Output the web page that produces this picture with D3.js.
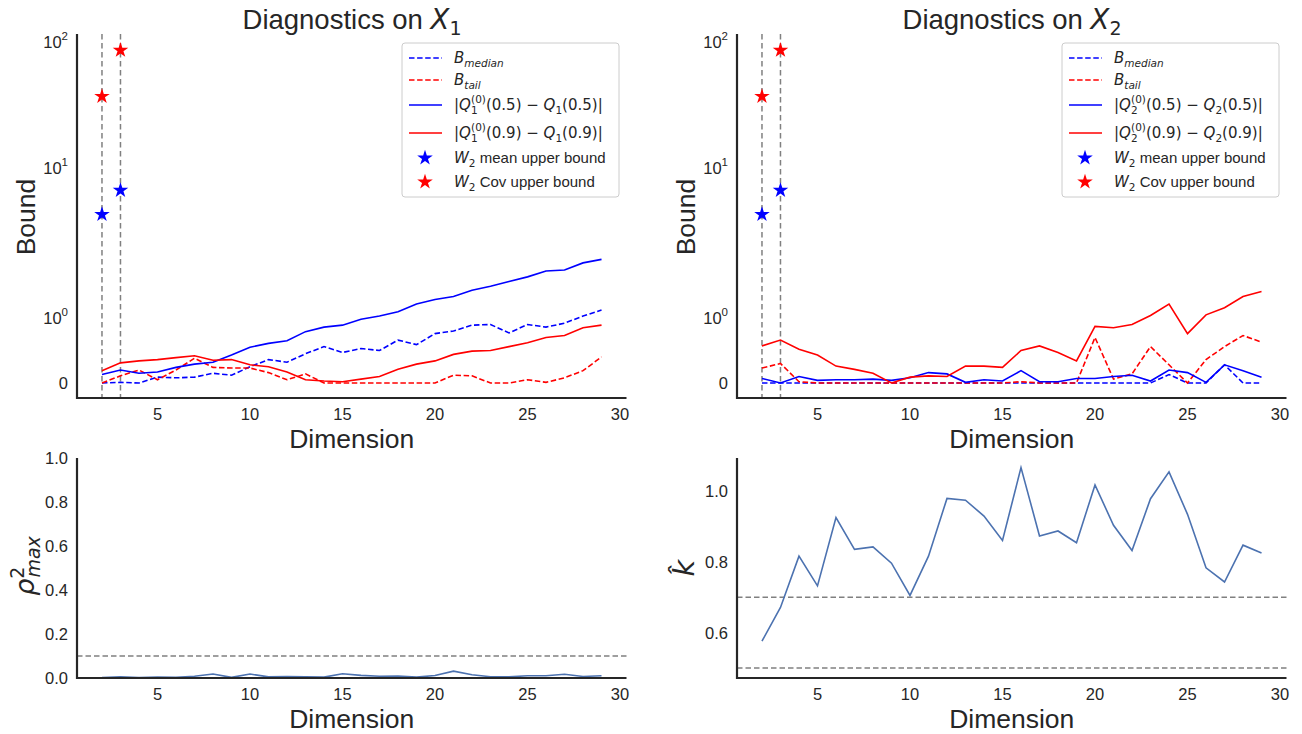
<!DOCTYPE html>
<html>
<head>
<meta charset="utf-8">
<script src="https://cdn.jsdelivr.net/npm/d3@7/dist/d3.min.js"></script>
<style>
  body { margin: 0; background: #fff; }
  text { fill: #262626; }
</style>
</head>
<body>
<svg id="svg" width="1302" height="734"></svg>
<script>
// ---- data ----
const dims = [2, 3, 4, 5, 6, 7, 8, 9, 10, 11, 12, 13, 14, 15, 16, 17, 18, 19, 20, 21, 22, 23, 24, 25, 26, 27, 28, 29];
const xTicks = [5, 10, 15, 20, 25, 30];
const boundTicks = [0, 1, 10, 100];

// W2 bounds (only two dimensions)
const starDims = [2, 3];
const w2Mean = [4.9, 7.1];
const w2Cov = [37, 86];

// X_1 panel
const x1BMedian = [0, 0.01, 0, 0.09, 0.08, 0.09, 0.15, 0.12, 0.25, 0.36, 0.32, 0.45, 0.56, 0.47, 0.53, 0.5, 0.66, 0.59, 0.76, 0.8, 0.89, 0.9, 0.77, 0.9, 0.86, 0.92, 1.03, 1.13];
const x1BTail = [0, 0.11, 0.2, 0.05, 0.2, 0.38, 0.24, 0.23, 0.23, 0.16, 0.05, 0.14, 0, 0, 0, 0, 0, 0, 0, 0.12, 0.11, 0, 0, 0.05, 0.01, 0.08, 0.19, 0.4];
const x1Q05 = [0.13, 0.2, 0.15, 0.17, 0.24, 0.29, 0.32, 0.43, 0.55, 0.61, 0.65, 0.79, 0.86, 0.89, 0.98, 1.03, 1.1, 1.24, 1.33, 1.39, 1.53, 1.63, 1.75, 1.88, 2.06, 2.09, 2.33, 2.46];
const x1Q09 = [0.19, 0.31, 0.34, 0.36, 0.39, 0.42, 0.35, 0.36, 0.28, 0.25, 0.17, 0.05, 0.03, 0.02, 0.06, 0.1, 0.21, 0.29, 0.34, 0.44, 0.49, 0.5, 0.56, 0.62, 0.7, 0.73, 0.85, 0.89];

// X_2 panel
const x2BMedian = [0, 0, 0, 0, 0, 0, 0, 0, 0, 0, 0, 0, 0, 0, 0, 0, 0, 0, 0, 0, 0, 0, 0.13, 0, 0, 0.28, 0, 0];
const x2BTail = [0.23, 0.3, 0.02, 0, 0, 0, 0, 0, 0, 0, 0, 0, 0, 0, 0.02, 0, 0, 0, 0.7, 0.06, 0.14, 0.56, 0.28, 0, 0.36, 0.56, 0.73, 0.63];
const x2Q05 = [0.07, 0, 0.1, 0.04, 0.05, 0.05, 0.06, 0.04, 0.08, 0.16, 0.14, 0.01, 0.05, 0.03, 0.19, 0.02, 0.02, 0.07, 0.07, 0.1, 0.12, 0.03, 0.2, 0.16, 0.01, 0.28, 0.19, 0.09];
const x2Q09 = [0.57, 0.66, 0.52, 0.43, 0.26, 0.21, 0.15, 0, 0.09, 0.11, 0.1, 0.26, 0.26, 0.24, 0.5, 0.57, 0.47, 0.34, 0.87, 0.85, 0.9, 1.04, 1.24, 0.76, 1.05, 1.17, 1.39, 1.5];

// bottom panels
const rhoMax = [0.002, 0.006, 0.002, 0.004, 0.003, 0.008, 0.018, 0.003, 0.018, 0.005, 0.007, 0.006, 0.004, 0.019, 0.012, 0.008, 0.009, 0.004, 0.011, 0.031, 0.015, 0.006, 0.005, 0.01, 0.01, 0.017, 0.007, 0.01];
const rhoTicks = [0, 0.2, 0.4, 0.6, 0.8, 1.0];
const rhoRef = [0.1];
const kHat = [0.576, 0.671, 0.816, 0.732, 0.925, 0.835, 0.842, 0.796, 0.705, 0.816, 0.979, 0.974, 0.929, 0.86, 1.066, 0.873, 0.887, 0.854, 1.017, 0.903, 0.832, 0.978, 1.054, 0.934, 0.783, 0.743, 0.847, 0.825];
const kTicks = [0.6, 0.8, 1.0];
const kRef = [0.7, 0.5];

// ---- drawing ----
const SANS = "'Liberation Sans', Arial, sans-serif";
const MATH = "'DejaVu Sans', sans-serif";
const INK = "#262626";
const TICK = 16.5;
const svg = d3.select("#svg");

function rich(sel, parts) {
  parts.forEach(p => {
    const t = sel.append("tspan").text(p.t);
    if (p.i) t.attr("font-style", "italic");
    if (p.s) t.attr("font-size", p.s);
    if (p.dy) t.attr("dy", p.dy);
    if (p.dx) t.attr("dx", p.dx);
    t.attr("font-family", p.f || MATH);
  });
  return sel;
}

function frame(g, x, top, bottom) {
  g.append("line").attr("x1", x.range()[0]).attr("x2", x.range()[0])
    .attr("y1", top).attr("y2", bottom + 1).attr("stroke", INK).attr("stroke-width", 2.2);
  g.append("line").attr("x1", x.range()[0] - 1).attr("x2", x.range()[1])
    .attr("y1", bottom).attr("y2", bottom).attr("stroke", INK).attr("stroke-width", 2.2);
  g.selectAll(".xt").data(xTicks).enter().append("text")
    .attr("x", d => x(d)).attr("y", bottom + 22)
    .attr("text-anchor", "middle").attr("font-family", SANS).attr("font-size", TICK)
    .text(d => d);
  g.append("text").attr("x", (x.range()[0] + x.range()[1]) / 2).attr("y", bottom + 50)
    .attr("text-anchor", "middle").attr("font-family", SANS).attr("font-size", 26.5)
    .text("Dimension");
}

function series(g, x, y, vals, color, dashed) {
  const line = d3.line().x((d, i) => x(dims[i])).y(d => y(d));
  g.append("path").datum(vals).attr("d", line).attr("fill", "none")
    .attr("stroke", color).attr("stroke-width", 1.6)
    .attr("stroke-dasharray", dashed ? "5.5,2.6" : null);
}

function topPanel(ox, idx, bMedian, bTail, q05, q09) {
  const g = svg.append("g");
  const top = 34, bottom = 398;
  const x = d3.scaleLinear().domain([0.65, 30.35]).range([ox, ox + 549.5]);
  const yLin = d3.scaleLinear().domain([0, 1]).range([383, 318]);
  const yLog = d3.scaleLog().domain([1, 10, 100]).range([318, 168, 42]);
  const y = v => (v <= 1 ? yLin(v) : yLog(v));

  // vertical markers at the star dimensions
  g.selectAll(".vl").data(starDims).enter().append("line")
    .attr("x1", d => x(d)).attr("x2", d => x(d)).attr("y1", top).attr("y2", bottom)
    .attr("stroke", "#808080").attr("stroke-width", 1.5).attr("stroke-dasharray", "5.5,3.5");

  series(g, x, y, bMedian, "#0000ff", true);
  series(g, x, y, bTail, "#ff0000", true);
  series(g, x, y, q05, "#0000ff", false);
  series(g, x, y, q09, "#ff0000", false);

  const star = d3.symbol(d3.symbolStar).size(75);
  g.selectAll(".sm").data(w2Mean).enter().append("path").attr("d", star)
    .attr("transform", (d, i) => `translate(${x(starDims[i])},${y(d)})`).attr("fill", "#0000ff");
  g.selectAll(".sc").data(w2Cov).enter().append("path").attr("d", star)
    .attr("transform", (d, i) => `translate(${x(starDims[i])},${y(d)})`).attr("fill", "#ff0000");

  frame(g, x, top, bottom);

  // y tick labels (symlog style)
  boundTicks.forEach(t => {
    const tx = g.append("text").attr("x", ox - 9).attr("y", y(t) + 6)
      .attr("text-anchor", "end").attr("font-family", SANS).attr("font-size", TICK);
    if (t === 0) tx.text("0");
    else rich(tx, [{ t: "10", f: SANS }, { t: String(Math.round(Math.log10(t))), s: 11.5, dy: -8, f: SANS }]);
  });

  g.append("text").attr("transform", `translate(${ox - 42},217) rotate(-90)`)
    .attr("text-anchor", "middle").attr("font-family", SANS).attr("font-size", 26.5).text("Bound");

  const title = g.append("text").attr("x", ox + 275).attr("y", 29)
    .attr("text-anchor", "middle").attr("font-family", SANS).attr("font-size", 27.5);
  rich(title, [{ t: "Diagnostics on ", f: SANS }, { t: "X", i: true }, { t: String(idx), s: 19, dy: 6 }]);

  // legend
  const lg = g.append("g").attr("transform", `translate(${ox + 325},43)`);
  lg.append("rect").attr("width", 217).attr("height", 154).attr("rx", 3)
    .attr("fill", "#fff").attr("fill-opacity", 0.8).attr("stroke", "#cccccc").attr("stroke-width", 1);
  const rows = [15, 37, 62, 90, 115, 139];
  const handles = [
    { c: "#0000ff", d: true }, { c: "#ff0000", d: true },
    { c: "#0000ff", d: false }, { c: "#ff0000", d: false },
    { c: "#0000ff", s: true }, { c: "#ff0000", s: true }
  ];
  handles.forEach((h, i) => {
    if (h.s) {
      lg.append("path").attr("d", star).attr("fill", h.c)
        .attr("transform", `translate(${23},${rows[i]})`);
    } else {
      lg.append("line").attr("x1", 7).attr("x2", 40).attr("y1", rows[i]).attr("y2", rows[i])
        .attr("stroke", h.c).attr("stroke-width", 1.6)
        .attr("stroke-dasharray", h.d ? "5.5,2.6" : null);
    }
  });
  const tx = i => lg.append("text").attr("x", 52).attr("y", rows[i] + 5).attr("font-size", 15).attr("font-family", MATH);
  rich(tx(0), [{ t: "B", i: true }, { t: "median", i: true, s: 10.5, dy: 3.5 }]);
  rich(tx(1), [{ t: "B", i: true }, { t: "tail", i: true, s: 10.5, dy: 3.5 }]);
  ["0.5", "0.9"].forEach((q, k) => {
    rich(tx(2 + k), [
      { t: "|" }, { t: "Q", i: true }, { t: String(idx), s: 10.5, dy: 4 },
      { t: "(0)", s: 10.5, dx: -6.5, dy: -11 }, { t: `(${q}) \u2212 `, dy: 7 },
      { t: "Q", i: true }, { t: String(idx), s: 10.5, dy: 4 }, { t: `(${q})|`, dy: -4 }
    ]);
  });
  rich(tx(4), [{ t: "W", i: true }, { t: "2", s: 10.5, dy: 4 }, { t: " mean upper bound", f: SANS, dy: -4 }]);
  rich(tx(5), [{ t: "W", i: true }, { t: "2", s: 10.5, dy: 4 }, { t: " Cov upper bound", f: SANS, dy: -4 }]);
}

function bottomPanel(ox, vals, domain, ticks, refs, fmt) {
  const g = svg.append("g");
  const top = 458, bottom = 678;
  const x = d3.scaleLinear().domain([0.65, 30.35]).range([ox, ox + 549.5]);
  const y = d3.scaleLinear().domain(domain).range([bottom, top]);

  g.selectAll(".hl").data(refs).enter().append("line")
    .attr("x1", ox).attr("x2", ox + 549.5).attr("y1", d => y(d)).attr("y2", d => y(d))
    .attr("stroke", "#808080").attr("stroke-width", 1.5).attr("stroke-dasharray", "5.5,3");

  series(g, x, y, vals, "#4c72b0", false);
  frame(g, x, top, bottom);

  g.selectAll(".yt").data(ticks).enter().append("text")
    .attr("x", ox - 9).attr("y", d => y(d) + 6).attr("text-anchor", "end")
    .attr("font-family", SANS).attr("font-size", TICK).text(d => d3.format(fmt)(d));
  return g;
}

topPanel(77, 1, x1BMedian, x1BTail, x1Q05, x1Q09);
topPanel(737, 2, x2BMedian, x2BTail, x2Q05, x2Q09);

const gl = bottomPanel(77, rhoMax, [0, 1], rhoTicks, rhoRef, ".1f");
const rl = gl.append("text").attr("transform", "translate(34,566) rotate(-90)")
  .attr("text-anchor", "middle").attr("font-size", 27).attr("font-family", MATH);
rich(rl, [{ t: "\u03c1", i: true }, { t: "2", s: 19, dy: -10 }, { t: "max", i: true, s: 19, dx: -11, dy: 16 }]);

const gr = bottomPanel(737, kHat, [0.472, 1.093], kTicks, kRef, ".1f");
gr.append("text").attr("transform", "translate(694,568) rotate(-90)")
  .attr("text-anchor", "middle").attr("font-size", 29).attr("font-family", MATH)
  .attr("font-style", "italic").text("k\u0302");
</script>
</body>
</html>
